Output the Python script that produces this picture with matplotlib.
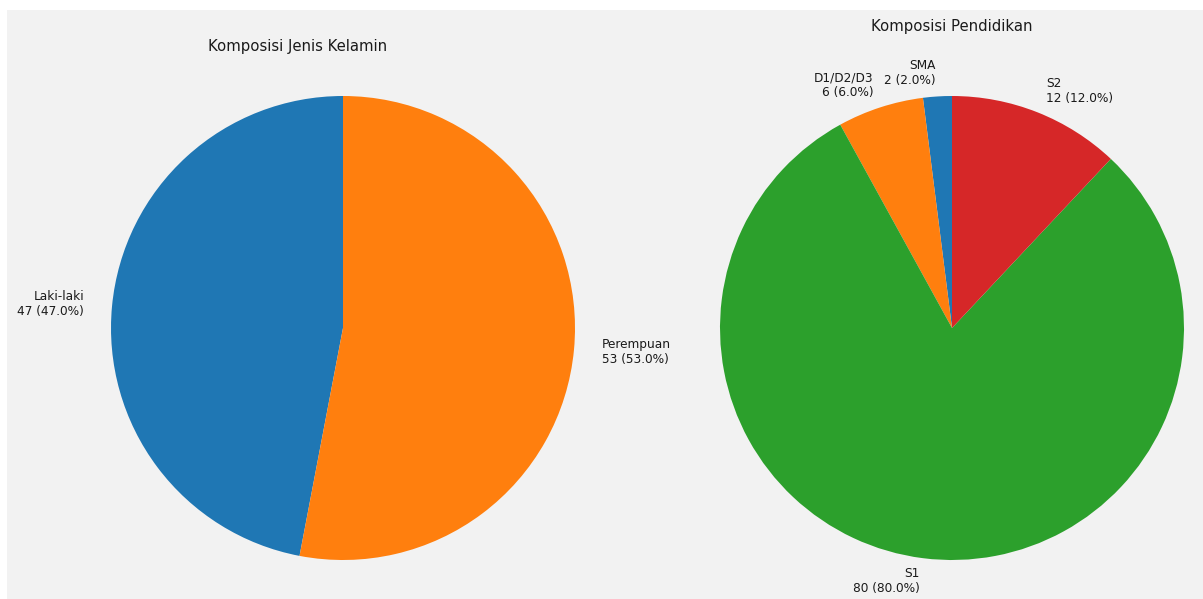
import matplotlib.pyplot as plt
from matplotlib.patches import Rectangle

# data
gender_labels = ["Laki-laki", "Perempuan"]
gender_counts = [47, 53]

edu_labels = ["SMA", "D1/D2/D3", "S1", "S2"]
edu_counts = [2, 6, 80, 12]

colors_gender = ["#1f77b4", "#ff7f0e"]
colors_edu = ["#1f77b4", "#ff7f0e", "#2ca02c", "#d62728"]


def make_labels(names, counts):
    total = sum(counts)
    return [f"{n}\n{c} ({c / total * 100:.1f}%)" for n, c in zip(names, counts)]


fig = plt.figure(figsize=(12.03, 5.99), dpi=100, facecolor="white")

# gray panel (screenshot has thin white border top/left)
fig.patches.append(Rectangle((7 / 1203, 0), 1, (599 - 10) / 599,
                             transform=fig.transFigure, facecolor="#f2f2f2",
                             edgecolor="none", zorder=-10))

ax_w = 580 / 1203
ax_h = 580 / 599
ax1 = fig.add_axes([53 / 1203, -19 / 599, ax_w, ax_h])
ax2 = fig.add_axes([662 / 1203, -19 / 599, ax_w, ax_h])

lbl_font = {"fontsize": 8.7, "color": "#1a1a1a"}

ax1.pie(gender_counts, labels=make_labels(gender_labels, gender_counts),
        colors=colors_gender, startangle=90, labeldistance=1.12,
        textprops=lbl_font)
ax2.pie(edu_counts, labels=make_labels(edu_labels, edu_counts),
        colors=colors_edu, startangle=90, textprops=lbl_font)

for ax in (ax1, ax2):
    ax.set_xlim(-1.25, 1.25)
    ax.set_ylim(-1.25, 1.25)
    ax.set_aspect("equal")
    ax.set_facecolor("none")

ax1.set_title("Komposisi Jenis Kelamin", fontsize=10.7, color="#1a1a1a",
              x=(298 - 53) / 580, y=(618 - 51) / 580, pad=0)
ax2.set_title("Komposisi Pendidikan", fontsize=10.7, color="#1a1a1a",
              y=(618 - 31) / 580, pad=0)

fig.savefig("out.png", dpi=100, facecolor=fig.get_facecolor())
